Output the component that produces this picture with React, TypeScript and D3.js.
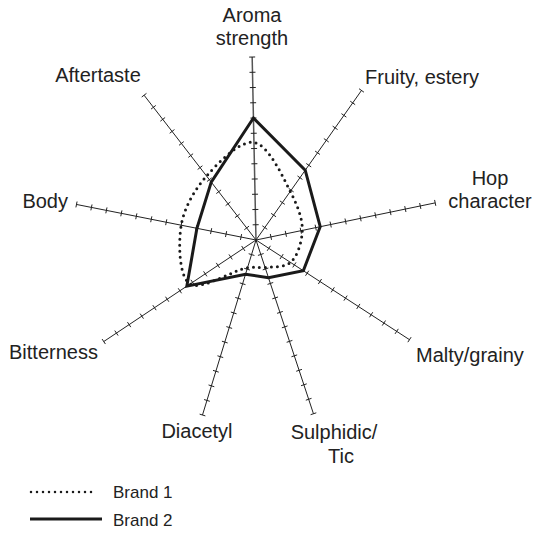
import * as d3 from "d3";

// axes of the profile, clockwise from the top
const attributes = [
  "Aroma strength",
  "Fruity, estery",
  "Hop character",
  "Malty/grainy",
  "Sulphidic/Tic",
  "Diacetyl",
  "Bitterness",
  "Body",
  "Aftertaste",
];

// scores (scale 0-12)
const brand1 = [6.4, 3.9, 3.1, 2.7, 1.9, 1.9, 5.2, 5.0, 5.3];
const brand2 = [8.0, 5.6, 4.3, 3.7, 2.6, 2.35, 5.45, 3.95, 4.8];

const seriesNames = ["Brand 1", "Brand 2"];
const scaleTicks = d3.range(1, 13);

// the drawn spokes are not evenly spaced; angle of each spoke in degrees
const spokeAngles = [-1.2, 35.2, 78.3, 123, 161.7, 197, 236.3, 281.2, 322.3];

// label lines: offset from centre, anchor
const labelLayout = [
  { lines: [["Aroma", -4, -218], ["strength", -4, -195]], anchor: "middle" },
  { lines: [["Fruity, estery", 109, -156]], anchor: "start" },
  { lines: [["Hop", 234, -55], ["character", 234, -32]], anchor: "middle" },
  { lines: [["Malty/grainy", 160, 122]], anchor: "start" },
  { lines: [["Sulphidic/", 78, 199], ["Tic", 85, 223]], anchor: "middle" },
  { lines: [["Diacetyl", -59, 198]], anchor: "middle" },
  { lines: [["Bitterness", -247, 119]], anchor: "start" },
  { lines: [["Body", -188, -32]], anchor: "end" },
  { lines: [["Aftertaste", -158, -158]], anchor: "middle" },
];

export default function App() {
  const width = 536;
  const height = 533;
  const cx = 256;
  const cy = 240;
  const radius = 183;
  const tickHalf = 3;

  const r = d3.scaleLinear().domain([0, 12]).range([0, radius]);
  const ang = spokeAngles.map((a) => (a * Math.PI) / 180);

  const point = (i: number, v: number): [number, number] => [
    cx + Math.sin(ang[i]) * r(v),
    cy - Math.cos(ang[i]) * r(v),
  ];

  const solidLine = d3
    .line<[number, number]>()
    .curve(d3.curveLinearClosed);
  const smoothLine = d3
    .line<[number, number]>()
    .curve(d3.curveCatmullRomClosed.alpha(0.5));

  const pts1 = brand1.map((v, i) => point(i, v));
  const pts2 = brand2.map((v, i) => point(i, v));

  const font = "'Liberation Sans', Arial, Helvetica, sans-serif";

  return (
    <svg
      width={width}
      height={height}
      style={{ position: "absolute", left: 0, top: 0, background: "#fff" }}
      fontFamily={font}
    >
      {/* spokes with tick marks */}
      {attributes.map((name, i) => {
        const [x2, y2] = point(i, 12);
        const ux = Math.sin(ang[i]);
        const uy = -Math.cos(ang[i]);
        return (
          <g key={name}>
            <line
              x1={cx}
              y1={cy}
              x2={x2}
              y2={y2}
              stroke={i === 0 ? "#555" : "#222"}
              strokeWidth={i === 0 ? 1.5 : 1}
            />
            {scaleTicks.map((t) => {
              const [tx, ty] = point(i, t);
              return (
                <line
                  key={t}
                  x1={tx - uy * tickHalf}
                  y1={ty + ux * tickHalf}
                  x2={tx + uy * tickHalf}
                  y2={ty - ux * tickHalf}
                  stroke="#222"
                  strokeWidth={1}
                />
              );
            })}
          </g>
        );
      })}

      {/* Brand 1 - dotted smooth */}
      <path
        d={smoothLine(pts1) || ""}
        fill="none"
        stroke="#1a1a1a"
        strokeWidth={3}
        strokeDasharray="0 6"
        strokeLinecap="round"
      />
      {/* Brand 2 - solid */}
      <path
        d={solidLine(pts2) || ""}
        fill="none"
        stroke="#1a1a1a"
        strokeWidth={3}
        strokeLinejoin="miter"
      />

      {/* labels */}
      {labelLayout.map((l, i) => (
        <text key={i} fontSize={20} fill="#222" textAnchor={l.anchor}>
          {l.lines.map(([txt, dx, dy]) => (
            <tspan key={txt as string} x={cx + (dx as number)} y={cy + (dy as number)}>
              {txt}
            </tspan>
          ))}
        </text>
      ))}

      {/* legend */}
      <g>
        <line
          x1={31}
          x2={97}
          y1={492}
          y2={492}
          stroke="#1a1a1a"
          strokeWidth={2.5}
          strokeDasharray="0 6"
          strokeLinecap="round"
        />
        <text x={113} y={498} fontSize={17} fill="#222">
          {seriesNames[0]}
        </text>
        <line
          x1={30}
          x2={102}
          y1={519}
          y2={519}
          stroke="#1a1a1a"
          strokeWidth={3}
        />
        <text x={113} y={526} fontSize={17} fill="#222">
          {seriesNames[1]}
        </text>
      </g>
    </svg>
  );
}
